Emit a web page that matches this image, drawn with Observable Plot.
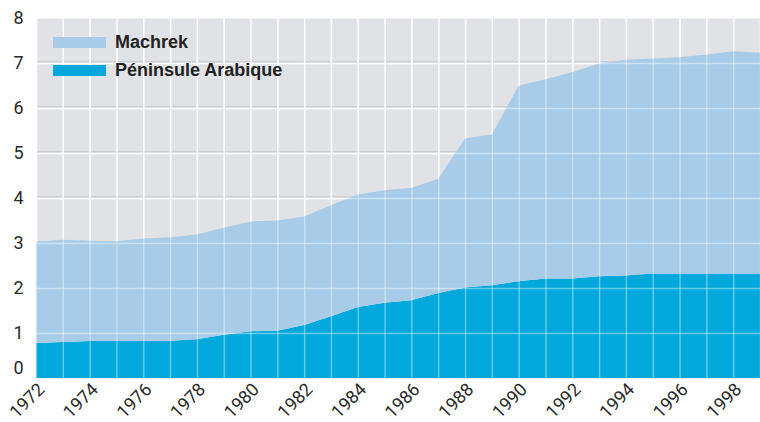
<!DOCTYPE html>
<html><head><meta charset="utf-8">
<script src="https://cdn.jsdelivr.net/npm/d3@7"></script>
<script src="https://cdn.jsdelivr.net/npm/@observablehq/plot@0.6"></script>
<style>
body{margin:0;background:#fff;}
#wrap{position:relative;width:760px;height:422px;}
#legend{position:absolute;left:53px;top:28px;font-family:"Liberation Sans Narrow","Liberation Sans",sans-serif;font-weight:bold;font-size:18px;color:#222;}
.item{display:flex;align-items:center;height:28px;}
.sw{width:53px;height:11px;margin-right:9px;}
</style></head>
<body><div id="wrap"><div id="legend"></div></div>
<script>
const years = [1972,1973,1974,1975,1976,1977,1978,1979,1980,1981,1982,1983,1984,1985,1986,1987,1988,1989,1990,1991,1992,1993,1994,1995,1996,1997,1998,1999];
const peninsule = [0.78,0.80,0.82,0.82,0.82,0.83,0.86,0.96,1.04,1.05,1.18,1.37,1.58,1.67,1.73,1.89,2.01,2.06,2.15,2.21,2.21,2.26,2.28,2.32,2.32,2.32,2.32,2.32];
const machrek = [2.24,2.27,2.23,2.22,2.28,2.30,2.33,2.38,2.44,2.45,2.41,2.47,2.50,2.50,2.50,2.54,3.32,3.35,4.35,4.43,4.59,4.73,4.79,4.78,4.81,4.87,4.94,4.91];
const seriesNames = ["Péninsule Arabique","Machrek"];
const seriesColors = ["#00a8dc","#a8cce8"];
const xTicks = [1972,1974,1976,1978,1980,1982,1984,1986,1988,1990,1992,1994,1996,1998];
const yTicks = [1,2,3,4,5,6,7,8];
const yGrid = [1,2,3,4,5,6,7];

const data = [];
years.forEach((y,i)=>{
  data.push({year:y, series:seriesNames[0], value:peninsule[i]});
  data.push({year:y, series:seriesNames[1], value:machrek[i]});
});

const font = "Roboto, 'Liberation Sans', sans-serif";
const chart = Plot.plot({
  width:760, height:422,
  marginLeft:36, marginRight:0, marginTop:18, marginBottom:44,
  style:{fontFamily:font, fontSize:"18px", color:"#333", background:"#fff"},
  x:{domain:[1972,1999], label:null},
  y:{domain:[0,8], label:null},
  color:{domain:seriesNames, range:seriesColors},
  marks:[
    Plot.frame({fill:"#e1e2e6", stroke:null}),
    Plot.ruleY(yGrid, {stroke:"#b9bbc1", strokeWidth:1, dy:-1.5}),
    Plot.ruleY(yGrid, {stroke:"#fff", strokeWidth:1.5}),
    Plot.ruleX(years, {stroke:"#fff", strokeWidth:1.4}),
    Plot.areaY(data, {x:"year", y:"value", fill:"series", order:seriesNames, curve:"linear"}),
    Plot.ruleY(yGrid, {stroke:"#fff", strokeWidth:1.5, strokeOpacity:0.4}),
    Plot.ruleX(years, {stroke:"#fff", strokeWidth:1.4, strokeOpacity:0.4}),
    Plot.axisY(yTicks, {tickSize:0, tickPadding:13, fontSize:18, fill:"#2a2a2a"}),
    Plot.axisY([0], {tickSize:0, tickPadding:13, dy:-10, fontSize:18, fill:"#2a2a2a"}),
    Plot.axisX(xTicks, {tickSize:0, tickPadding:8, tickRotate:-45, tickFormat:d=>String(d), fontSize:18, fill:"#2a2a2a", dx:5})
  ]
});
document.getElementById("wrap").prepend(chart);

const legend = document.getElementById("legend");
[["Machrek","#a8cce8"],["Péninsule Arabique","#00a8dc"]].forEach(([n,c])=>{
  const it=document.createElement("div"); it.className="item";
  const sw=document.createElement("div"); sw.className="sw"; sw.style.background=c;
  const t=document.createElement("span"); t.textContent=n;
  it.append(sw,t); legend.append(it);
});
</script></body></html>
